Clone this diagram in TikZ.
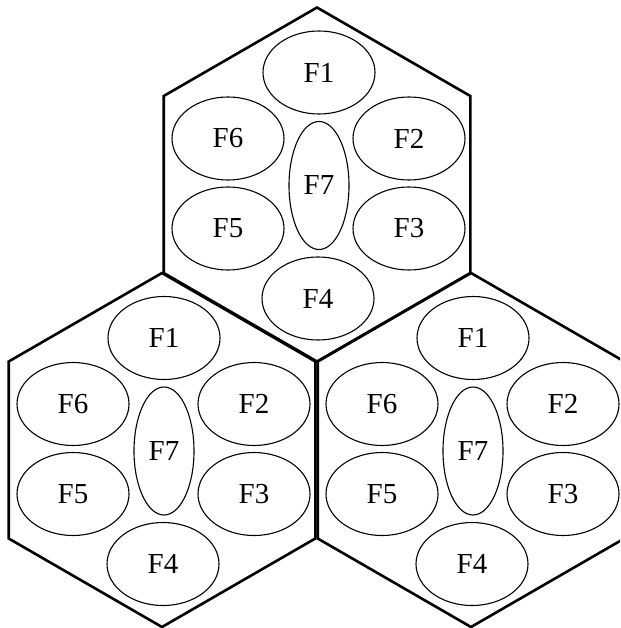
\documentclass[tikz,border=0pt]{standalone}
\usepackage{fontspec}
\setmainfont{Liberation Serif}
\usetikzlibrary{shapes.geometric}
\tikzset{
  hexline/.style={line width=2.6pt, line join=miter},
  cellov/.style={draw, ellipse, line width=1.1pt, inner sep=0pt,
    minimum width=112pt, minimum height=83pt,
    font=\fontsize{29}{29}\selectfont},
  centreov/.style={cellov, minimum width=60pt, minimum height=128pt},
  cell/.pic={
    \draw[hexline] (0,-177) -- (153.3,-88.5) -- (153.3,88.5) -- (0,177)
      -- (-153.3,88.5) -- (-153.3,-88.5) -- cycle;
    \node[cellov] (-f1) at (2,-112) {F1};
    \node[cellov] (-f2) at (92,-46) {F2};
    \node[cellov] (-f3) at (92,44) {F3};
    \node[cellov] (-f4) at (1,114) {F4};
    \node[cellov] (-f5) at (-89,44) {F5};
    \node[cellov] (-f6) at (-89,-46) {F6};
    \node[centreov] (-f7) at (2,1) {F7};
  }
}
\begin{document}
\begin{tikzpicture}[x=1pt,y=-1pt]
\useasboundingbox (0,0) rectangle (620,628);
\clip (0,0) rectangle (620,628);
\fill[white] (0,0) rectangle (620,628);
\pic (top) at (317,184.5) {cell};
\pic (bl) at (162,450) {cell};
\pic (br) at (471,450) {cell};
\end{tikzpicture}
\end{document}
